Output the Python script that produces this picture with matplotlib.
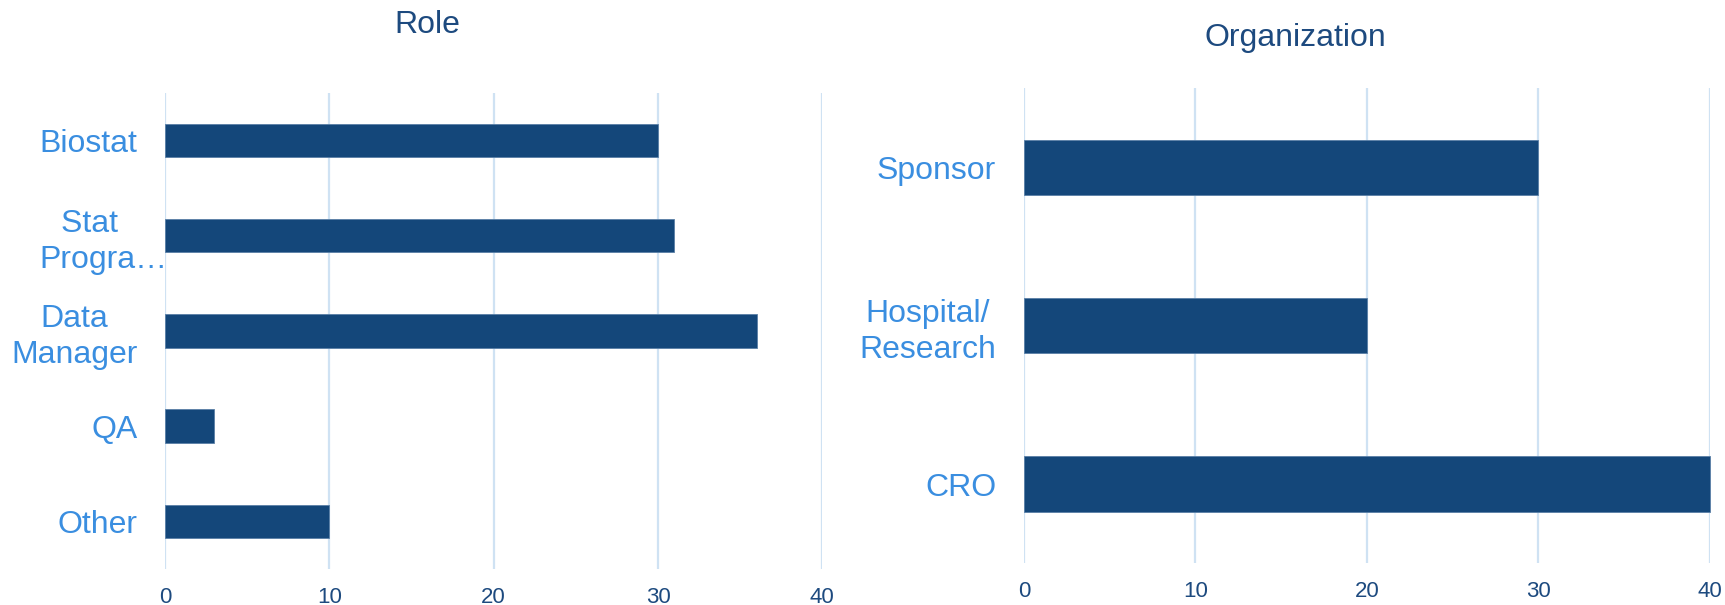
import matplotlib
matplotlib.use("Agg")
import matplotlib.pyplot as plt
from matplotlib.transforms import ScaledTranslation

# data
role_labels = ["Biostat", "Stat\nProgra\u2026", "Data\nManager", "QA", "Other"]
role_counts = [30, 31, 36, 3, 10]
org_labels = ["Sponsor", "Hospital/\nResearch", "CRO"]
org_counts = [30, 20, 40]
x_ticks = [0, 10, 20, 30, 40]

bar_color = "#14477a"
cat_color = "#3a8ee0"
num_color = "#1d4a7f"
grid_color = "#cfe2f3"

plt.rcParams["font.family"] = ["Liberation Sans", "DejaVu Sans"]

fig = plt.figure(figsize=(17.25, 6.05), dpi=100)


def draw_panel(ax, labels, values):
    pos = range(len(values))
    ax.barh(pos, values, height=0.35, color=bar_color, edgecolor="#5a7fa6",
            linewidth=0.6, zorder=3, clip_on=False)
    ax.set_ylim(len(values) - 0.5, -0.5)
    ax.set_xlim(0, 40)
    ax.set_yticks(list(pos))
    ax.set_yticklabels(labels, fontsize=23, color=cat_color, multialignment="center",
                       linespacing=1.25)
    ax.set_xticks(x_ticks)
    ax.set_xticklabels([str(t) for t in x_ticks], fontsize=16, color=num_color)
    ax.tick_params(axis="both", length=0)
    ax.tick_params(axis="y", pad=20)
    ax.tick_params(axis="x", pad=13)
    ax.grid(axis="x", color=grid_color, linewidth=1.6, zorder=0)
    for s in ax.spines.values():
        s.set_visible(False)


# the truncated label is laid out a little off-centre in the original
shown_roles = list(role_labels)
shown_roles[1] = shown_roles[1].replace("Stat\n", "Stat\u00a0\u00a0\u00a0\n")

ax1 = fig.add_axes([0.0957, 0.0595, 0.381, 0.787])
draw_panel(ax1, shown_roles, role_counts)

# and it runs past the axis line
lbl = ax1.get_yticklabels()[1]
lbl.set_transform(lbl.get_transform() + ScaledTranslation(0.30, 0, fig.dpi_scale_trans))

ax2 = fig.add_axes([0.5936, 0.069, 0.3977, 0.785])
draw_panel(ax2, org_labels, org_counts)

fig.text(0.248, 0.9455, "Role", fontsize=23, color=num_color, ha="center", va="baseline")
fig.text(0.7507, 0.924, "Organization", fontsize=23, color=num_color, ha="center", va="baseline")

fig.savefig("out.png", dpi=100, facecolor="white")
